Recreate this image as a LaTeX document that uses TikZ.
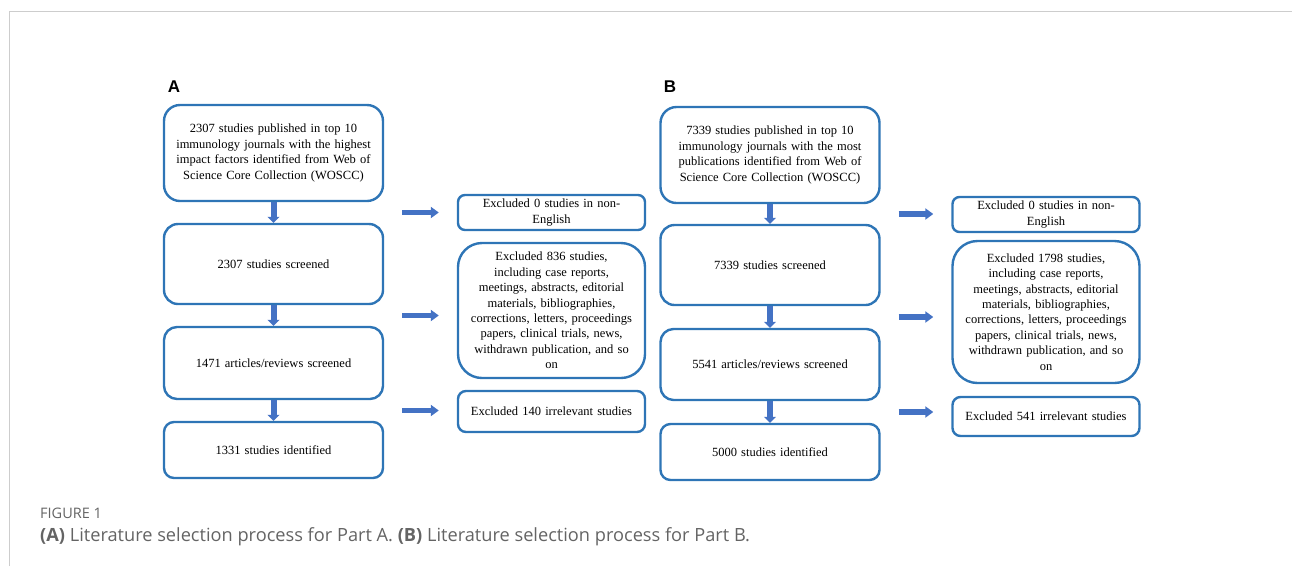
\documentclass[tikz,border=0pt]{standalone}
\usepackage{fontspec}
\setmainfont{Liberation Serif}
\newfontfamily\panelfont{Liberation Sans}
\newfontfamily\captionfont{Open Sans}
\usepackage{tikz}
\usetikzlibrary{arrows.meta,calc}
\definecolor{boxblue}{RGB}{46, 117, 182}
\definecolor{arrowblue}{RGB}{68, 114, 196}
\definecolor{framegray}{RGB}{205, 205, 205}
\definecolor{captiongray}{RGB}{100, 100, 100}

\begin{document}
\begin{tikzpicture}[x=1pt, y=-1pt,
    stepbox/.style   = {draw=boxblue, line width=2.4pt, fill=white, align=center, inner sep=0pt,
                        font=\fontsize{12.5}{15.4}\selectfont},
    leftbox/.style   = {stepbox, text width=212pt, minimum width=219pt},
    rightbox/.style  = {stepbox, text width=180pt, minimum width=187pt},
    downarrow/.style = {arrowblue, line width=6pt, -{Triangle[width=12pt,length=6pt]}},
    sidearrow/.style = {arrowblue, line width=5.5pt, -{Triangle[width=11pt,length=8pt]},
                        shorten <=18pt, shorten >=18pt}]
            \useasboundingbox (0,0) rectangle (1292,566);
            \draw[framegray, line width=1pt] (9,566) -- (9,11) -- (1292,11);

            % panel A
            \node[font=\panelfont\bfseries\fontsize{17}{17}\selectfont] (labA) at (174, 87) {A};
            \node[leftbox,  minimum height=96pt,  rounded corners=16pt] (a1) at (273.5, 153)
                 {2307 studies published in top 10\\immunology journals with the highest\\impact factors identified from Web of\\Science Core Collection (WOSCC)};
            \node[leftbox,  minimum height=80pt,  rounded corners=14pt] (a2) at (273.5, 264)   {2307 studies screened};
            \node[leftbox,  minimum height=72pt,  rounded corners=13pt] (a3) at (273.5, 363)   {1471 articles/reviews screened};
            \node[leftbox,  minimum height=56pt,  rounded corners=10pt] (a4) at (273.5, 450)   {1331 studies identified};
            \node[rightbox, minimum height=35pt,  rounded corners=7pt]  (ra1) at (551.5, 212.5) {Excluded 0 studies in non-\\English};
            \node[rightbox, minimum height=135pt, rounded corners=24pt] (ra2) at (551.5, 310.5)
                 {Excluded 836 studies,\\including case reports,\\meetings, abstracts, editorial\\materials, bibliographies,\\corrections, letters, proceedings\\papers, clinical trials, news,\\withdrawn publication, and so\\on};
            \node[rightbox, minimum height=41pt,  rounded corners=8pt]  (ra3) at (551.5, 411.5) {Excluded 140 irrelevant studies};

            \draw[downarrow] (a1.south) -- (a2.north);
            \draw[downarrow] (a2.south) -- (a3.north);
            \draw[downarrow] (a3.south) -- (a4.north);
            \coordinate (ga1) at ($(a1.south)!0.5!(a2.north)$);
            \coordinate (ga2) at ($(a2.south)!0.5!(a3.north)$);
            \coordinate (ga3) at ($(a3.south)!0.5!(a4.north)$);
            \draw[sidearrow] (ga1 -| a1.east) -- (ga1 -| ra1.west);
            \draw[sidearrow] (ga2 -| a2.east) -- (ga2 -| ra2.west);
            \draw[sidearrow] (ga3 -| a3.east) -- (ga3 -| ra3.west);

            % panel B
            \node[font=\panelfont\bfseries\fontsize{17}{17}\selectfont] (labB) at (670, 87) {B};
            \node[leftbox,  minimum height=96pt,  rounded corners=16pt] (b1) at (770, 155)
                 {7339 studies published in top 10\\immunology journals with the most\\publications identified from Web of\\Science Core Collection (WOSCC)};
            \node[leftbox,  minimum height=80pt,  rounded corners=14pt] (b2) at (770, 265)    {7339 studies screened};
            \node[leftbox,  minimum height=71pt,  rounded corners=13pt] (b3) at (770, 364.5)  {5541 articles/reviews screened};
            \node[leftbox,  minimum height=56pt,  rounded corners=10pt] (b4) at (770, 452)    {5000 studies identified};
            \node[rightbox, minimum height=35pt,  rounded corners=7pt]  (rb1) at (1046, 214.5) {Excluded 0 studies in non-\\English};
            \node[rightbox, minimum height=142pt, rounded corners=25pt] (rb2) at (1046, 312)
                 {Excluded 1798 studies,\\including case reports,\\meetings, abstracts, editorial\\materials, bibliographies,\\corrections, letters, proceedings\\papers, clinical trials, news,\\withdrawn publication, and so\\on};
            \node[rightbox, minimum height=39pt,  rounded corners=8pt]  (rb3) at (1046, 416.5) {Excluded 541 irrelevant studies};

            \draw[downarrow] (b1.south) -- (b2.north);
            \draw[downarrow] (b2.south) -- (b3.north);
            \draw[downarrow] (b3.south) -- (b4.north);
            \coordinate (gb1) at ($(b1.south)!0.5!(b2.north)$);
            \coordinate (gb2) at ($(b2.south)!0.5!(b3.north)$);
            \coordinate (gb3) at ($(b3.south)!0.5!(b4.north)$);
            \draw[sidearrow] (gb1 -| b1.east) -- (gb1 -| rb1.west);
            \draw[sidearrow] (gb2 -| b2.east) -- (gb2 -| rb2.west);
            \draw[sidearrow] (gb3 -| b3.east) -- (gb3 -| rb3.west);

            % caption
            \node[anchor=west, inner sep=0pt, captiongray, font=\captionfont\fontsize{14.5}{14.5}\selectfont] (figno) at (40, 513) {FIGURE 1};
            \node[anchor=west, inner sep=0pt, captiongray, font=\captionfont\fontsize{18.2}{18.2}\selectfont] (figcap) at (40, 537)
                 {\textbf{(A)} Literature selection process for Part A. \textbf{(B)} Literature selection process for Part B.};
        \end{tikzpicture}
\end{document}
